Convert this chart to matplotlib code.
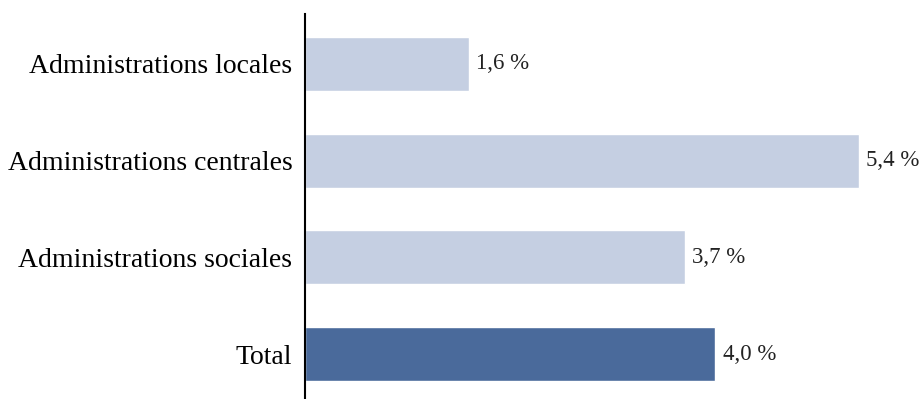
import matplotlib.pyplot as plt

categories = ["Administrations locales", "Administrations centrales",
              "Administrations sociales", "Total"]
values = [1.6, 5.4, 3.7, 4.0]
labels = ["1,6 %", "5,4 %", "3,7 %", "4,0 %"]
colors = ["#C5CFE2", "#C5CFE2", "#C5CFE2", "#4A6A9B"]

plt.rcParams['font.family'] = ['Liberation Serif', 'DejaVu Serif']

fig = plt.figure(figsize=(9.24, 3.99), dpi=100)
ax = fig.add_axes([305 / 924, 0, 1 - 305 / 924, 385 / 399])

y = range(len(categories))
ax.barh(y, values, height=0.56, color=colors, edgecolor="white", linewidth=1)

for i, (v, t) in enumerate(zip(values, labels)):
    ax.text(v + 0.07, i, t, va="center", ha="left", fontsize=16.5, color="#222222")

ax.set_yticks(list(y))
ax.set_yticklabels(categories, fontsize=20)
ax.tick_params(axis="y", length=0, pad=9)
ax.set_xticks([])
ax.set_xlim(0, 619 / 102.6)
ax.set_ylim(3 + 0.465, -0.517)

for s in ["top", "right", "bottom"]:
    ax.spines[s].set_visible(False)
ax.spines["left"].set_linewidth(1.5)

fig.savefig("out.png", dpi=100)
